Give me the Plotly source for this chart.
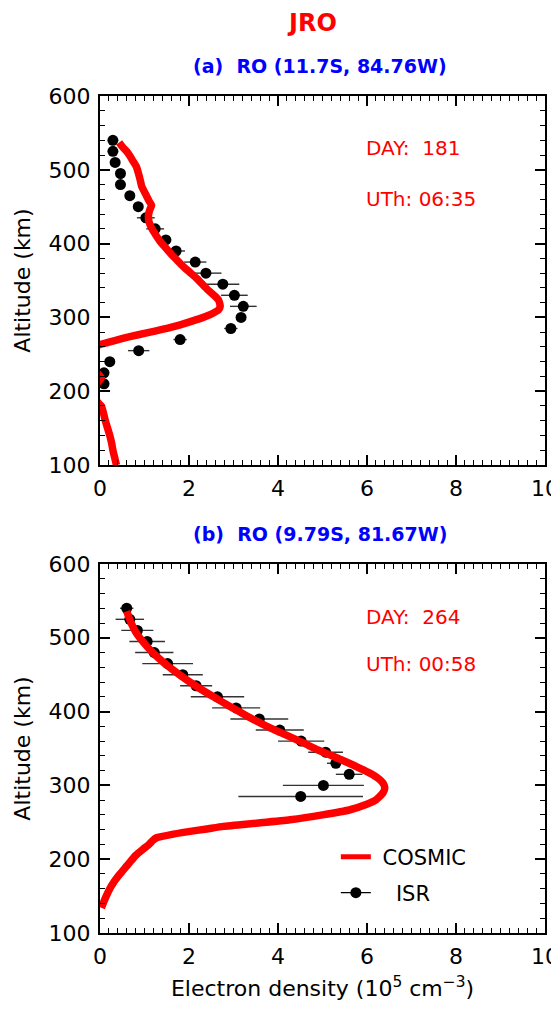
import plotly.graph_objects as go

# ---------------- data ----------------
# Panel (a): COSMIC RO profile (altitude km, Ne 1e5 cm^-3)
cosmic_a_alt = [537, 530, 525, 518, 511, 504, 496, 487, 477, 470, 464, 458, 452, 446, 439, 430,
                421, 412, 403, 394, 385, 377, 369, 361, 353, 345, 337, 330, 324, 319, 315, 310,
                306, 302, 297, 290, 284, 279, 274, 269, 264, 258, 250, 240, 230, 222, 218, 212,
                205, 195, 185, 180, 170, 160, 150, 140, 130, 120, 110, 100]
cosmic_a_ne = [0.43, 0.52, 0.60, 0.68, 0.75, 0.82, 0.86, 0.90, 0.94, 1.00, 1.05, 1.10, 1.16, 1.12,
               1.09, 1.10, 1.16, 1.25, 1.35, 1.48, 1.61, 1.74, 1.87, 2.02, 2.17, 2.30, 2.43, 2.56,
               2.66, 2.69, 2.70, 2.66, 2.55, 2.40, 2.17, 1.80, 1.42, 1.05, 0.67, 0.35, 0.04, -0.20,
               -0.40, -0.35, -0.15, -0.02, 0.03, -0.05, -0.20, -0.15, -0.05, 0.03, 0.08, 0.12,
               0.17, 0.22, 0.26, 0.29, 0.33, 0.37]

# Panel (a): ISR
isr_a_alt = [540, 525, 510, 495, 480, 465, 450, 435, 420, 405, 390, 375, 360, 345, 330, 315,
             300, 285, 270, 255, 240, 225, 210]
isr_a_ne = [0.29, 0.29, 0.34, 0.46, 0.46, 0.67, 0.86, 1.03, 1.24, 1.48, 1.71, 2.14, 2.38, 2.76,
            3.02, 3.22, 3.17, 2.94, 1.80, 0.87, 0.22, 0.09, 0.09]
isr_a_err = [0.05, 0.05, 0.05, 0.05, 0.05, 0.05, 0.10, 0.20, 0.20, 0.12, 0.20, 0.25, 0.35, 0.37,
             0.30, 0.30, 0.10, 0.15, 0.15, 0.24, 0.05, 0.05, 0.05]

# Panel (b): COSMIC RO profile
cosmic_b_alt = [536, 520, 506, 492, 479, 467, 456, 445, 434, 420, 407, 393, 380, 369, 357.5, 348,
                339.5, 330, 321, 314, 307.6, 302, 296.5, 290, 284, 280.7, 274, 267, 260, 253.4,
                249, 244.5, 241, 237, 234, 229, 225, 220, 213.7, 205, 198, 190.8, 180, 168, 160,
                150, 140, 134]
cosmic_b_ne = [0.60, 0.70, 0.82, 1.00, 1.20, 1.42, 1.65, 1.90, 2.17, 2.55, 2.92, 3.33, 3.75, 4.15,
               4.57, 4.90, 5.24, 5.60, 5.92, 6.14, 6.29, 6.37, 6.40, 6.36, 6.27, 6.21, 5.98, 5.62,
               5.00, 4.27, 3.55, 2.77, 2.40, 1.95, 1.65, 1.27, 1.18, 1.10, 0.97, 0.80, 0.70, 0.60,
               0.45, 0.30, 0.22, 0.14, 0.07, 0.03]

# Panel (b): ISR
isr_b_alt = [540, 525, 510, 495, 480, 465, 450, 435, 420, 405, 390, 375, 360, 345, 330, 315, 300, 285]
isr_b_ne = [0.60, 0.67, 0.84, 1.06, 1.22, 1.52, 1.86, 2.16, 2.64, 3.06, 3.58, 4.04, 4.52, 5.07,
            5.30, 5.60, 5.02, 4.51]
isr_b_err = [0.15, 0.32, 0.36, 0.40, 0.43, 0.57, 0.45, 0.36, 0.60, 0.54, 0.65, 0.54, 0.52, 0.39,
             0.20, 0.30, 0.91, 1.40]

x_ticks = [0, 2, 4, 6, 8, 10]
y_ticks = [100, 200, 300, 400, 500, 600]

# ---------------- figure ----------------
FONT = "DejaVu Sans"
RED = "#ff0000"
BLUE = "#0000ff"

fig = go.Figure()

def add_panel(xa, ya, isr_ne, isr_alt, isr_err, cos_ne, cos_alt):
    fig.add_trace(go.Scatter(
        x=isr_ne, y=isr_alt, mode="markers", xaxis=xa, yaxis=ya, showlegend=False,
        marker=dict(color="black", size=11),
        error_x=dict(type="data", array=isr_err, visible=True, color="#333333",
                     thickness=1.4, width=0),
    ))
    fig.add_trace(go.Scatter(
        x=cos_ne, y=cos_alt, mode="lines", xaxis=xa, yaxis=ya, showlegend=False,
        line=dict(color=RED, width=7.5, shape="spline", smoothing=0.4),
    ))

add_panel("x", "y", isr_a_ne, isr_a_alt, isr_a_err, cosmic_a_ne, cosmic_a_alt)
add_panel("x2", "y2", isr_b_ne, isr_b_alt, isr_b_err, cosmic_b_ne, cosmic_b_alt)

# legend entries (bottom panel)
fig.add_trace(go.Scatter(x=[None], y=[None], mode="lines", name="\u00a0COSMIC",
                         xaxis="x2", yaxis="y2", legend="legend",
                         line=dict(color=RED, width=5)))
fig.add_trace(go.Scatter(x=[None], y=[None], mode="lines+markers", name="\u00a0\u00a0\u00a0ISR",
                         xaxis="x2", yaxis="y2", legend="legend2",
                         line=dict(color="black", width=1.4),
                         marker=dict(color="black", size=11)))

def xaxis_cfg(anchor, title=None):
    d = dict(range=[0, 10], tickvals=x_ticks, ticktext=[str(v) for v in x_ticks],
             ticks="inside", ticklen=10, tickwidth=1.5, tickcolor="black",
             ticklabelstandoff=3, ticklabeloverflow="allow", automargin=False,
             minor=dict(dtick=0.2, tick0=0, ticks="inside", ticklen=5, tickwidth=1.2,
                        tickcolor="black"),
             showline=True, linewidth=2, linecolor="black", mirror="allticks",
             showgrid=False, zeroline=False, anchor=anchor,
             tickfont=dict(family=FONT, size=22, color="black"))
    if title:
        d["title"] = dict(text=title, font=dict(family=FONT, size=22, color="black"), standoff=14)
    return d

def yaxis_cfg(anchor, domain):
    return dict(range=[100, 600], tickvals=y_ticks, ticktext=[str(v) for v in y_ticks],
                ticks="inside", ticklen=10, tickwidth=1.5, tickcolor="black",
                ticklabelstandoff=3, ticklabeloverflow="allow", automargin=False,
                minor=dict(dtick=20, tick0=100, ticks="inside", ticklen=5, tickwidth=1.2,
                           tickcolor="black"),
                showline=True, linewidth=2, linecolor="black", mirror="allticks",
                showgrid=False, zeroline=False, anchor=anchor, domain=domain,
                tickfont=dict(family=FONT, size=22, color="black"),
                title=dict(text="Altitude (km)", font=dict(family=FONT, size=22, color="black"),
                           standoff=12))

fig.update_layout(
    width=543, height=993,
    margin=dict(l=92, r=6, t=88, b=68),
    paper_bgcolor="white", plot_bgcolor="white",
    font=dict(family=FONT, color="black"),
    xaxis=xaxis_cfg("y"),
    yaxis=yaxis_cfg("x", [0.5591, 1.0]),
    xaxis2=xaxis_cfg("y2", "Electron density (10<sup>5</sup> cm<sup>\u22123</sup>)"),
    yaxis2=yaxis_cfg("x2", [0.0, 0.4409]),
    legend=dict(x=0.530, y=0.0908, xanchor="left", yanchor="middle",
                bgcolor="rgba(0,0,0,0)", borderwidth=0,
                font=dict(family=FONT, size=21, color="black")),
    legend2=dict(x=0.530, y=0.0478, xanchor="left", yanchor="middle",
                 bgcolor="rgba(0,0,0,0)", borderwidth=0,
                 font=dict(family=FONT, size=21, color="black")),
    showlegend=True,
)

ann = []
ann.append(dict(text="<b>JRO</b>", x=0.4775, y=1.0869, xref="paper", yref="paper",
                showarrow=False, xanchor="center", yanchor="middle",
                font=dict(family=FONT, size=24, color=RED)))
ann.append(dict(text="<b>(a)\u00a0\u00a0RO (11.7S, 84.76W)</b>", x=0.494, y=1.0361,
                xref="paper", yref="paper", showarrow=False, xanchor="center", yanchor="middle",
                font=dict(family=FONT, size=19, color=BLUE)))
ann.append(dict(text="<b>(b)\u00a0\u00a0RO (9.79S, 81.67W)</b>", x=0.494, y=0.4767,
                xref="paper", yref="paper", showarrow=False, xanchor="center", yanchor="middle",
                font=dict(family=FONT, size=19, color=BLUE)))
for xa, ya, day, ut, yd, yu in [("x", "y", "181", "06:35", 529, 461),
                                 ("x2", "y2", "264", "00:58", 528, 465)]:
    ann.append(dict(text="DAY:\u00a0\u00a0" + day, x=5.93, y=yd, xref=xa, yref=ya,
                    showarrow=False, xanchor="left", yanchor="middle",
                    font=dict(family=FONT, size=20, color=RED)))
    ann.append(dict(text="UTh: " + ut, x=5.93, y=yu, xref=xa, yref=ya,
                    showarrow=False, xanchor="left", yanchor="middle",
                    font=dict(family=FONT, size=20, color=RED)))
fig.update_layout(annotations=ann)

fig.write_html("out.html")
